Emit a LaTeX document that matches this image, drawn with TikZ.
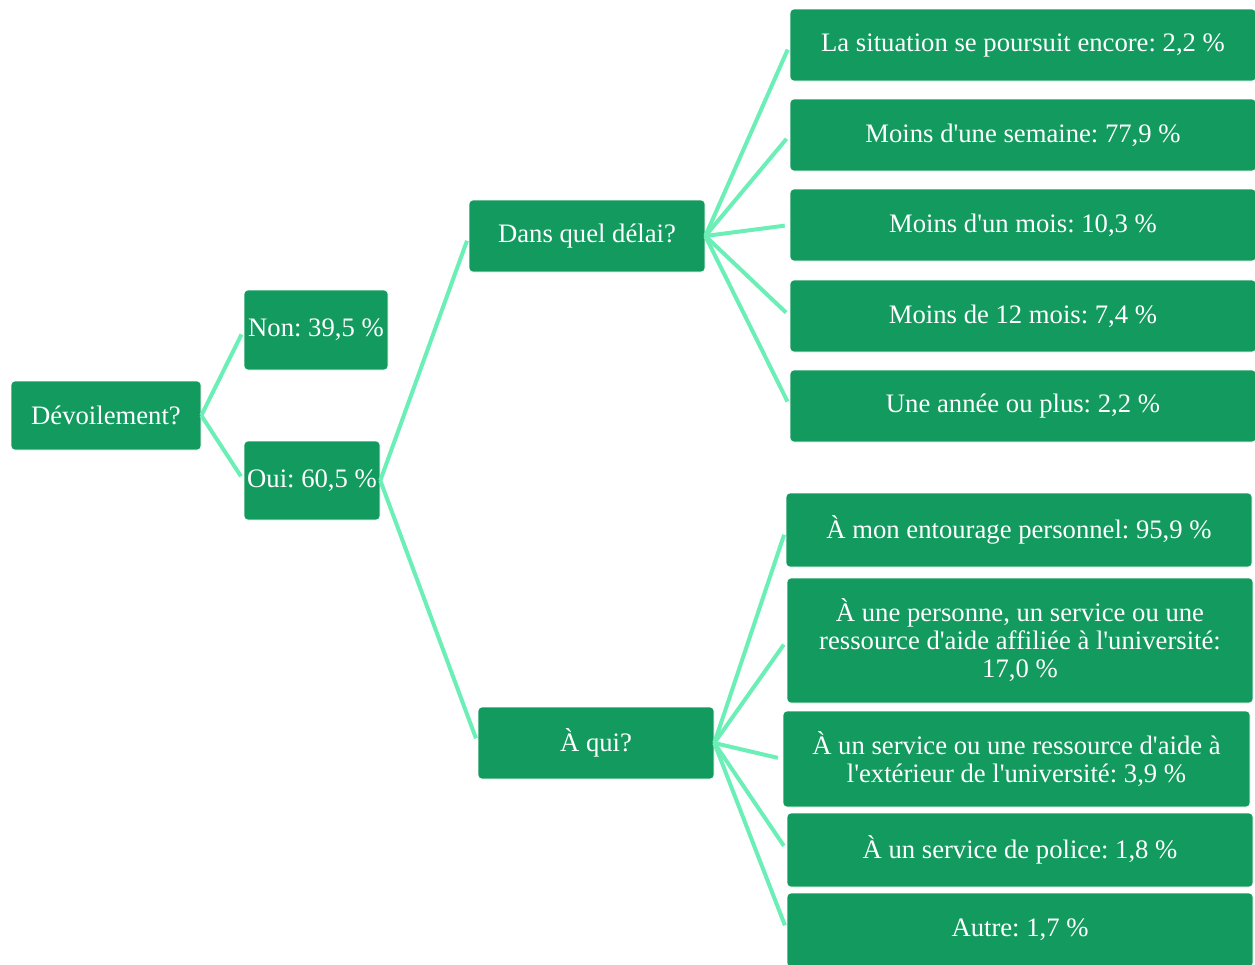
\documentclass[tikz,border=0pt]{standalone}
\usepackage{fontspec}
\setmainfont{Liberation Serif}[Ligatures=TeXOff]
\definecolor{boxgreen}{HTML}{139B5F}
\definecolor{linegreen}{HTML}{6BEFB7}
\begin{document}
\frenchspacing
\begin{tikzpicture}[x=1pt,y=-1pt,
  box/.style={draw=white, line width=0.6pt, fill=boxgreen, rounded corners=4pt, text=white, inner sep=0pt, align=center,
    font=\fontsize{26.67}{28}\selectfont},
  link/.style={draw=linegreen, line width=4pt, shorten >=5pt}]
\useasboundingbox (0,0) rectangle (1255,964);
\clip (0,0) rectangle (1255,964);
\node[box, minimum width=190pt, minimum height=69pt] (dev) at (106,415.5) {Dévoilement?};
\node[box, minimum width=144pt, minimum height=80pt] (non) at (316,330) {Non: 39,5 \%};
\node[box, minimum width=136pt, minimum height=79pt] (oui) at (312,480.5) {Oui: 60,5 \%};
\node[box, minimum width=236pt, minimum height=72pt] (delai) at (587,236) {Dans quel délai?};
\node[box, minimum width=236pt, minimum height=72pt] (qui) at (596,743) {À qui?};
\node[box, minimum width=466pt, minimum height=72pt] (d1) at (1023,45) {La situation se poursuit encore: 2,2 \%};
\node[box, minimum width=466pt, minimum height=72pt] (d2) at (1023,135) {Moins d'une semaine: 77,9 \%};
\node[box, minimum width=466pt, minimum height=72pt] (d3) at (1023,225) {Moins d'un mois: 10,3 \%};
\node[box, minimum width=466pt, minimum height=72pt] (d4) at (1023,316) {Moins de 12 mois: 7,4 \%};
\node[box, minimum width=466pt, minimum height=72pt] (d5) at (1023,406) {Une année ou plus: 2,2 \%};
\node[box, minimum width=466pt, minimum height=74pt] (q1) at (1019,530) {À mon entourage personnel: 95,9 \%};
\node[box, minimum width=466pt, minimum height=125pt] (q2) at (1020,640.5) {À une personne, un service ou une\\ressource d'aide affiliée à l'université:\\17,0 \%};
\node[box, minimum width=467pt, minimum height=96pt] (q3) at (1016.5,759) {À un service ou une ressource d'aide à\\l'extérieur de l'université: 3,9 \%};
\node[box, minimum width=466pt, minimum height=74pt] (q4) at (1020,850) {À un service de police: 1,8 \%};
\node[box, minimum width=466pt, minimum height=74pt] (q5) at (1020,930) {Autre: 1,7 \%};
\draw[link] (dev.east) -- (non.west);
\draw[link] (dev.east) -- (oui.west);
\draw[link] (oui.east) -- (delai.west);
\draw[link] (oui.east) -- (qui.west);
\foreach \n in {d1,d2,d3,d4,d5} \draw[link] (delai.east) -- (\n.west);
\foreach \n in {q1,q2,q3,q4,q5} \draw[link] (qui.east) -- (\n.west);
\end{tikzpicture}
\end{document}
